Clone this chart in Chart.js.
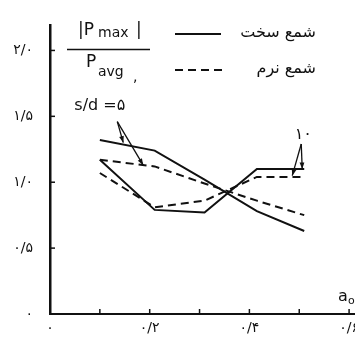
<!DOCTYPE html>
<html>
<head>
<meta charset="utf-8">
<script src="https://cdn.jsdelivr.net/npm/chart.js@4.4.0/dist/chart.umd.min.js"></script>
<style>
html, body { margin: 0; padding: 0; background: #fff; overflow: hidden; }
#wrap { position: relative; width: 380px; height: 341px; }
</style>
</head>
<body>
<div id="wrap"><canvas id="pile-chart"></canvas></div>
<script>
// a0 values (x) and |Pmax|/Pavg for each pile / spacing
var a0 = [0.1, 0.21, 0.31, 0.415, 0.51];
var hard5 = [1.32, 1.24, 1.02, 0.78, 0.63];
var hard10 = [1.17, 0.79, 0.77, 1.10, 1.10];
var soft5 = [1.17, 1.12, 0.99, 0.86, 0.75];
var soft10 = [1.07, 0.81, 0.86, 1.04, 1.04];

var yTickLabels = ['۰', '۰/۵', '۱/۰', '۱/۵', '۲/۰'];
var xTickLabels = ['۰', '', '۰/۲', '', '۰/۴', '', '۰/۶'];

var ink = '#111';
var fa = '"DejaVu Sans", sans-serif';

function pts(ys) {
	return a0.map(function(x, i) { return { x: x, y: ys[i] }; });
}

function line(ys, dashed) {
	return {
		data: pts(ys),
		borderColor: ink,
		borderWidth: 2,
		borderDash: dashed ? [8, 5] : [],
		pointRadius: 0,
		tension: 0,
		fill: false
	};
}

// ticks inside the axes, labels, arrows - all placed off the scales
var paperMarks = {
	id: 'paperMarks',
	afterDraw: function(chart) {
		var ctx = chart.ctx;
		var xs = chart.scales.x, ys = chart.scales.y;
		var area = chart.chartArea;
		ctx.save();
		ctx.strokeStyle = ink;
		ctx.fillStyle = ink;
		ctx.lineWidth = 1.5;

		// inward ticks
		for (var i = 1; i <= 6; i++) {
			var px = xs.getPixelForValue(i / 10);
			ctx.beginPath();
			ctx.moveTo(px, area.bottom);
			ctx.lineTo(px, area.bottom - 5);
			ctx.stroke();
		}
		for (var j = 1; j <= 4; j++) {
			var py = ys.getPixelForValue(j / 2);
			ctx.beginPath();
			ctx.moveTo(area.left, py);
			ctx.lineTo(area.left + 5, py);
			ctx.stroke();
		}

		// y title as a fraction
		var L = area.left, T = area.top;
		ctx.textBaseline = 'alphabetic';
		ctx.textAlign = 'left';
		ctx.font = '17px ' + fa;
		ctx.fillText('|P', L + 28, T + 10);
		ctx.fillText('|', L + 86, T + 10);
		ctx.font = '14px ' + fa;
		ctx.fillText('max', L + 48, T + 12);
		ctx.fillText('avg', L + 48, T + 51);
		ctx.fillText(',', L + 83, T + 56);
		ctx.font = '17px ' + fa;
		ctx.fillText('P', L + 36, T + 42);
		ctx.lineWidth = 1.5;
		ctx.beginPath();
		ctx.moveTo(L + 17, T + 24);
		ctx.lineTo(L + 100, T + 24);
		ctx.stroke();

		ctx.font = '16px ' + fa;
		ctx.textAlign = 'center';
		ctx.fillText('s/d =۵', xs.getPixelForValue(0.1), ys.getPixelForValue(1.55));
		ctx.fillText('۱۰', xs.getPixelForValue(0.508), ys.getPixelForValue(1.33));

		// leader arrows
		function arrow(x0, y0, x1, y1) {
			var p0x = xs.getPixelForValue(x0), p0y = ys.getPixelForValue(y0);
			var p1x = xs.getPixelForValue(x1), p1y = ys.getPixelForValue(y1);
			ctx.beginPath();
			ctx.moveTo(p0x, p0y);
			ctx.lineTo(p1x, p1y);
			ctx.stroke();
			var ang = Math.atan2(p1y - p0y, p1x - p0x);
			ctx.beginPath();
			ctx.moveTo(p1x, p1y);
			ctx.lineTo(p1x - 7 * Math.cos(ang - 0.35), p1y - 7 * Math.sin(ang - 0.35));
			ctx.lineTo(p1x - 7 * Math.cos(ang + 0.35), p1y - 7 * Math.sin(ang + 0.35));
			ctx.closePath();
			ctx.fill();
		}
		ctx.lineWidth = 1.3;
		arrow(0.135, 1.46, 0.147, 1.30);
		arrow(0.135, 1.46, 0.187, 1.13);
		arrow(0.504, 1.29, 0.506, 1.10);
		arrow(0.504, 1.29, 0.486, 1.05);

		// legend
		var lx0 = 175, lx1 = 221;
		ctx.lineWidth = 2;
		ctx.beginPath();
		ctx.moveTo(lx0, 34);
		ctx.lineTo(lx1, 34);
		ctx.stroke();
		ctx.setLineDash([8, 5]);
		ctx.beginPath();
		ctx.moveTo(lx0, 70);
		ctx.lineTo(lx1 + 2, 70);
		ctx.stroke();
		ctx.setLineDash([]);
		ctx.font = '16px ' + fa;
		ctx.textAlign = 'right';
		ctx.fillText('شمع سخت', 316, 37);
		ctx.fillText('شمع نرم', 316, 73);

		// a0 axis name
		ctx.textAlign = 'left';
		ctx.font = '16px ' + fa;
		ctx.fillText('a', 338, 301);
		ctx.font = '11px ' + fa;
		ctx.fillText('o', 348, 304);

		ctx.restore();
	}
};

new Chart(document.getElementById('pile-chart'), {
	type: 'line',
	data: {
		datasets: [line(hard5, false), line(hard10, false), line(soft5, true), line(soft10, true)]
	},
	options: {
		responsive: true,
		maintainAspectRatio: false,
		animation: false,
		layout: { padding: { top: 20, right: 1, left: 0, bottom: 0 } },
		plugins: { legend: { display: false }, tooltip: { enabled: false } },
		scales: {
			x: {
				type: 'linear',
				min: 0,
				max: 0.66,
				grid: { display: false, drawTicks: false },
				border: { display: true, color: ink, width: 2 },
				ticks: {
					stepSize: 0.1,
					includeBounds: false,
					autoSkip: false,
					maxRotation: 0,
					padding: 6,
					color: ink,
					font: { family: 'DejaVu Sans', size: 14 },
					callback: function(v, i) { return xTickLabels[i] || ''; }
				},
				afterFit: function(s) { s.height = 27; }
			},
			y: {
				min: 0,
				max: 2.19,
				grid: { display: false, drawTicks: false },
				border: { display: true, color: ink, width: 2.5 },
				ticks: {
					stepSize: 0.5,
					includeBounds: false,
					padding: 17,
					color: ink,
					font: { family: 'DejaVu Sans', size: 14 },
					callback: function(v, i) { return yTickLabels[i]; }
				},
				afterFit: function(s) { s.width = 50; }
			}
		}
	},
	plugins: [paperMarks]
});
</script>
</body>
</html>
